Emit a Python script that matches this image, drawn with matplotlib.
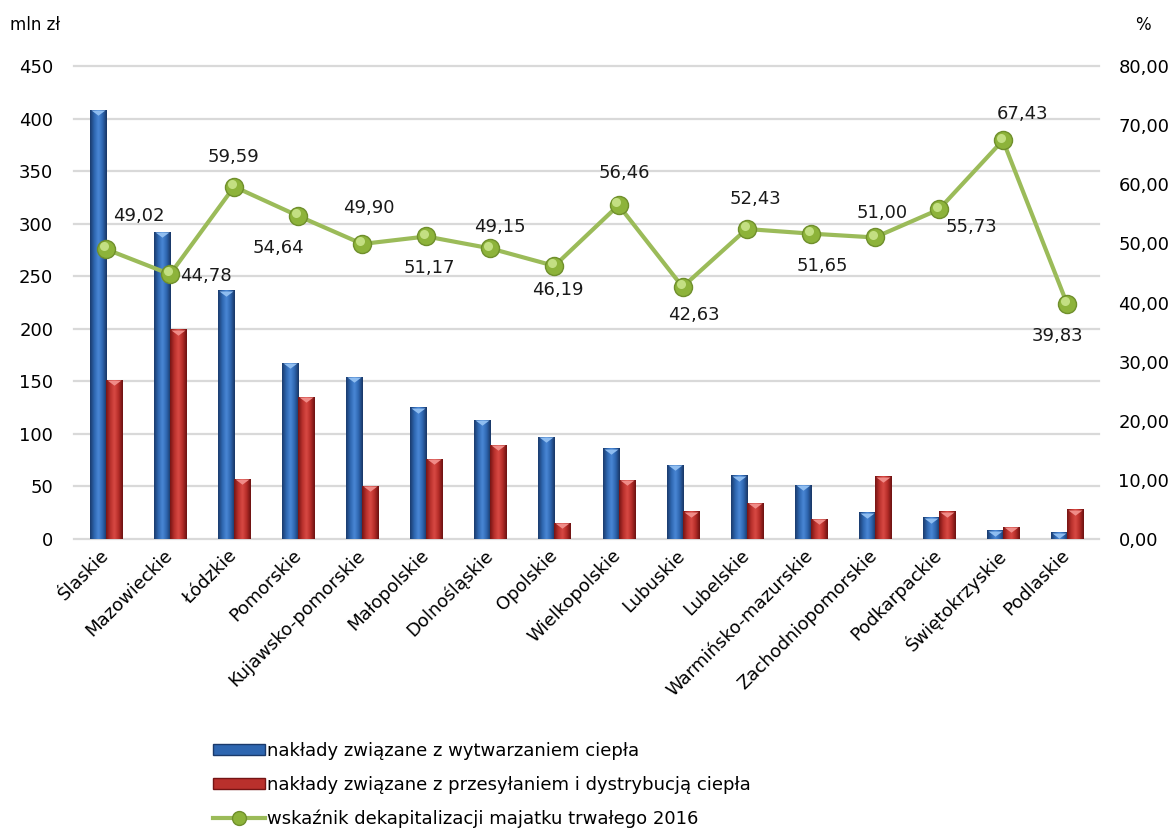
import numpy as np
import matplotlib
matplotlib.use('Agg')
import matplotlib.pyplot as plt
from matplotlib.colors import LinearSegmentedColormap
from matplotlib.lines import Line2D
from matplotlib.patches import Patch
from matplotlib.ticker import FuncFormatter, MultipleLocator
import matplotlib.transforms as mtransforms

plt.rcParams['font.family'] = ['DejaVu Sans']

# dane
wojewodztwa = ['Ślaskie', 'Mazowieckie', 'Łódzkie', 'Pomorskie', 'Kujawsko-pomorskie',
               'Małopolskie', 'Dolnośląskie', 'Opolskie', 'Wielkopolskie', 'Lubuskie',
               'Lubelskie', 'Warmińsko-mazurskie', 'Zachodniopomorskie', 'Podkarpackie',
               'Świętokrzyskie', 'Podlaskie']
wytwarzanie = [408, 292, 236, 167, 154, 125, 113, 97, 86, 70, 60, 51, 25, 20, 8, 6]
przesylanie = [151, 199, 57, 135, 50, 76, 89, 15, 56, 26, 34, 19, 59, 26, 11, 28]
dekapitalizacja = [49.02, 44.78, 59.59, 54.64, 49.90, 51.17, 49.15, 46.19, 56.46,
                   42.63, 52.43, 51.65, 51.00, 55.73, 67.43, 39.83]

# przesuniecia etykiet (px, w dol dodatnie)
label_off = [(33, -33), (36, 2), (-1, -30), (-20, 32), (7, -36), (3, 32), (9, -21), (3, 24),
             (6, -32), (11, 28), (9, -30), (12, 32), (7, -24), (33, 18), (20, -26), (-9, 32)]

def pl(v, _=None):
    return f'{v:.2f}'.replace('.', ',')

W, H = 1176, 835
fig = plt.figure(figsize=(W / 100, H / 100), dpi=100)
ax = fig.add_axes([74 / W, (H - 539) / H, (1099 - 74) / W, (539 - 66) / H])

x = np.arange(len(wojewodztwa))
bw = 0.25

blue_cm = LinearSegmentedColormap.from_list('b', ['#1A3A6B', '#2E66B0', '#4A88D6', '#2E66B0', '#183563'])
red_cm = LinearSegmentedColormap.from_list('r', ['#741414', '#B9302C', '#D84A44', '#B52C28', '#6A1111'])

def gradient_bars(rects, cmap, tip):
    grad = np.linspace(0, 1, 64).reshape(1, -1)
    for r in rects:
        x0, w, h = r.get_x(), r.get_width(), r.get_height()
        ax.imshow(grad, extent=[x0, x0 + w, 0, h], cmap=cmap, aspect='auto',
                  interpolation='bicubic', zorder=2)
        r.set_facecolor('none')
    xc = [r.get_x() + r.get_width() / 2 for r in rects]
    hs = [r.get_height() for r in rects]
    ax.plot(xc, hs, ls='none', marker=[(-1, 0), (1, 0), (0, -0.75)], ms=10,
            mfc=tip, mec='none', zorder=3)

b1 = ax.bar(x - bw / 2, wytwarzanie, bw, edgecolor='none', zorder=2)
b2 = ax.bar(x + bw / 2, przesylanie, bw, edgecolor='none', zorder=2)
gradient_bars(b1, blue_cm, '#8FBDF0')
gradient_bars(b2, red_cm, '#F08C88')

ax.set_xlim(-0.5, len(wojewodztwa) - 0.5)
ax.set_ylim(0, 450)
ax.yaxis.set_major_locator(MultipleLocator(50))
ax.grid(axis='y', color='#D9D9D9', lw=1.6)
for gl in ax.get_ygridlines():
    gl.set_clip_on(False)
ax.set_axisbelow(True)
for s in ax.spines.values():
    s.set_visible(False)
ax.tick_params(axis='y', length=0, pad=15, labelsize=13)
ax.tick_params(axis='x', length=0, pad=10)
ax.set_xticks(x)
ax.set_xticklabels(wojewodztwa, rotation=45, ha='right', va='center',
                   rotation_mode='anchor', fontsize=13)

ax2 = ax.twinx()
ax2.set_ylim(0, 80)
ax2.yaxis.set_major_locator(MultipleLocator(10))
ax2.yaxis.set_major_formatter(FuncFormatter(pl))
ax2.tick_params(axis='y', length=0, pad=14, labelsize=13)
for s in ax2.spines.values():
    s.set_visible(False)

ax2.plot(x, dekapitalizacja, color='#9BBB59', lw=3, marker='o', ms=13,
         mfc='#8DB33A', mec='#6F8F2C', mew=1, zorder=4)
hl = mtransforms.offset_copy(ax2.transData, fig=fig, x=-1.5, y=2, units='points')
ax2.plot(x, dekapitalizacja, ls='none', marker='o', ms=6.5, mfc='#CDE890',
         mec='none', alpha=0.85, transform=hl, zorder=5)

for xi, v, (dx, dy) in zip(x, dekapitalizacja, label_off):
    ax2.annotate(pl(v), (xi, v), xytext=(dx * 0.72, -dy * 0.72), textcoords='offset points',
                 ha='center', va='center', fontsize=13, color='#1a1a1a', zorder=6)

fig.text(10 / W, 1 - 25 / H, 'mln zł', fontsize=12, va='center', ha='left')
fig.text(1143 / W, 1 - 25 / H, '%', fontsize=12, va='center', ha='center')

handles = [Patch(facecolor='#2E66B0', edgecolor='#1A3A6B'),
           Patch(facecolor='#B9302C', edgecolor='#741414'),
           Line2D([], [], color='#9BBB59', lw=3, marker='o', ms=10,
                  mfc='#8DB33A', mec='#6F8F2C')]
labels = ['nakłady związane z wytwarzaniem ciepła',
          'nakłady związane z przesyłaniem i dystrybucją ciepła',
          'wskaźnik dekapitalizacji majatku trwałego 2016']
fig.legend(handles, labels, loc='upper left', bbox_to_anchor=(213 / W, 1 - 742 / H),
           frameon=False, fontsize=13, handlelength=2.9, handleheight=0.6,
           handletextpad=0.1, labelspacing=0.88, borderpad=0, borderaxespad=0)

fig.savefig('out.png', dpi=100)
